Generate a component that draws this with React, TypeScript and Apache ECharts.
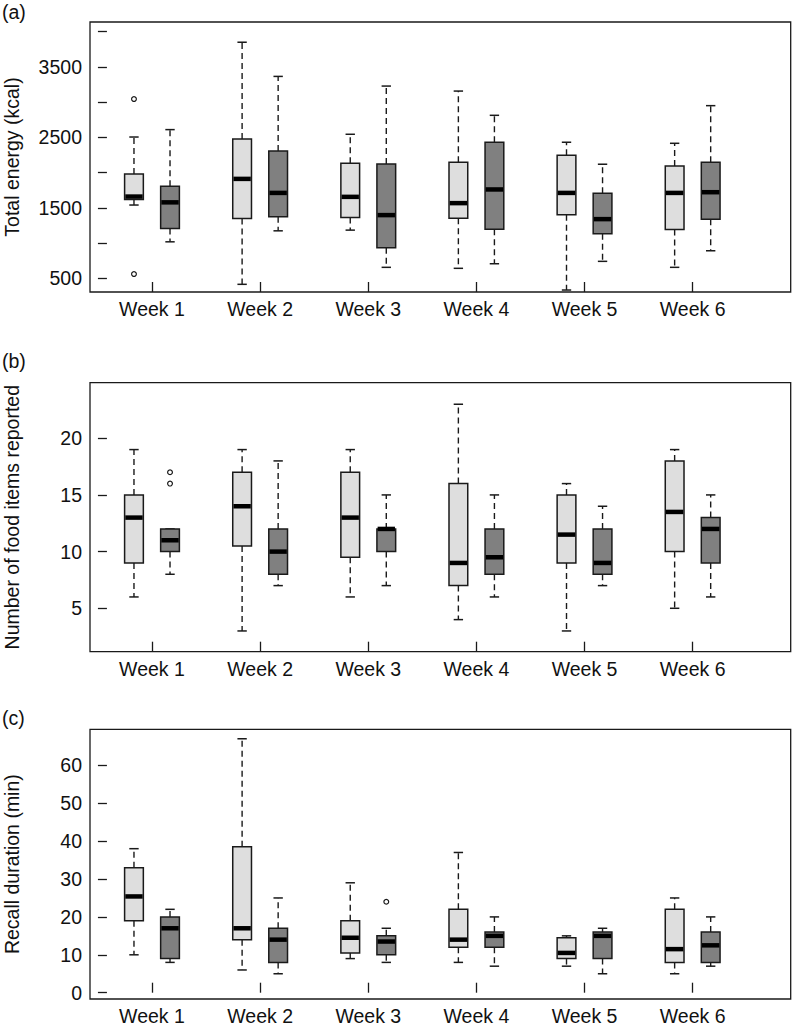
import React, { useEffect, useRef } from "react";
import * as echarts from "echarts";

const WEEKS = ["Week 1", "Week 2", "Week 3", "Week 4", "Week 5", "Week 6"];

// Each box: [lower whisker, Q1, median, Q3, upper whisker]
const ENERGY_LIGHT = [
  [1540, 1617, 1660, 1980, 2505],
  [415, 1350, 1911, 2478, 3850],
  [1184, 1364, 1656, 2133, 2544],
  [642, 1354, 1567, 2147, 3157],
  [334, 1401, 1712, 2246, 2431],
  [656, 1194, 1712, 2095, 2416],
];
const ENERGY_DARK = [
  [1018, 1208, 1578, 1807, 2610],
  [1174, 1373, 1712, 2307, 3365],
  [656, 933, 1397, 2123, 3228],
  [707, 1198, 1761, 2431, 2813],
  [741, 1132, 1340, 1708, 2119],
  [891, 1340, 1722, 2147, 2950],
];
// outliers: [week index, value]
const ENERGY_OUT_LIGHT = [
  [0, 3044],
  [0, 561],
];
const ENERGY_OUT_DARK: number[][] = [];

const ITEMS_LIGHT = [
  [6, 9, 13, 15, 19],
  [3, 10.5, 14, 17, 19],
  [6, 9.5, 13, 17, 19],
  [4, 7, 9, 16, 23],
  [3, 9, 11.5, 15, 16],
  [5, 10, 13.5, 18, 19],
];
const ITEMS_DARK = [
  [8, 10, 11, 12, 12],
  [7, 8, 10, 12, 18],
  [7, 10, 12, 12, 15],
  [6, 8, 9.5, 12, 15],
  [7, 8, 9, 12, 14],
  [6, 9, 12, 13, 15],
];
const ITEMS_OUT_LIGHT: number[][] = [];
const ITEMS_OUT_DARK = [
  [0, 16],
  [0, 17],
];

const DURATION_LIGHT = [
  [10, 19, 25.4, 33, 38],
  [6, 14, 17, 38.5, 67],
  [9, 10.5, 14.5, 19, 29],
  [8, 12, 14, 22, 37],
  [7, 9, 10.5, 14.5, 15],
  [5, 8, 11.5, 22, 25],
];
const DURATION_DARK = [
  [8, 9, 17, 20, 22],
  [5, 8, 14, 17, 25],
  [8, 10, 13.5, 15, 17],
  [7, 12, 15, 16, 20],
  [5, 9, 15, 16, 17],
  [7, 8, 12.5, 16, 20],
];
const DURATION_OUT_LIGHT: number[][] = [];
const DURATION_OUT_DARK = [[2, 24]];

const ENERGY_TICKS = [500, 1000, 1500, 2000, 2500, 3000, 3500, 4000];
const ENERGY_LABELS = [500, 1500, 2500, 3500];
const ITEMS_TICKS = [5, 10, 15, 20];
const DURATION_TICKS = [0, 10, 20, 30, 40, 50, 60];

const PANELS = [
  {
    tag: "(a)",
    title: "Total energy (kcal)",
    light: ENERGY_LIGHT,
    dark: ENERGY_DARK,
    outLight: ENERGY_OUT_LIGHT,
    outDark: ENERGY_OUT_DARK,
    ticks: ENERGY_TICKS,
    labels: ENERGY_LABELS,
    min: 306,
    max: 4137,
    top: 22,
    height: 270,
    tagY: 2,
  },
  {
    tag: "(b)",
    title: "Number of food items reported",
    light: ITEMS_LIGHT,
    dark: ITEMS_DARK,
    outLight: ITEMS_OUT_LIGHT,
    outDark: ITEMS_OUT_DARK,
    ticks: ITEMS_TICKS,
    labels: ITEMS_TICKS,
    min: 1.17,
    max: 24.9,
    top: 382.7,
    height: 269,
    tagY: 351,
  },
  {
    tag: "(c)",
    title: "Recall duration (min)",
    light: DURATION_LIGHT,
    dark: DURATION_DARK,
    outLight: DURATION_OUT_LIGHT,
    outDark: DURATION_OUT_DARK,
    ticks: DURATION_TICKS,
    labels: DURATION_TICKS,
    min: -1.66,
    max: 69.5,
    top: 729.3,
    height: 269.7,
    tagY: 708,
  },
];

const INK = "#1a1a1a";
const LIGHT_FILL = "#dedede";
const DARK_FILL = "#808080";
const FONT = "Liberation Sans";
const FS = 19.5;
const BOX_W = 0.52;
const CAP_W = 0.26;
const X_MIN = -0.22;
const X_MAX = 19.22;

const lightPos = (i: number) => 1 + 3 * i;
const darkPos = (i: number) => 2 + 3 * i;
const weekTick = (i: number) => 1.5 + 3 * i;

function makeRenderItem(fill: string) {
  return (_params: any, api: any) => {
    const x = api.value(0);
    const p = api.coord([x, api.value(1)]);
    const cx = p[0];
    const yLo = p[1];
    const yQ1 = api.coord([x, api.value(2)])[1];
    const yMed = api.coord([x, api.value(3)])[1];
    const yQ3 = api.coord([x, api.value(4)])[1];
    const yHi = api.coord([x, api.value(5)])[1];
    const bw = api.size([BOX_W, 0])[0];
    const cw = api.size([CAP_W, 0])[0];
    const dash = { stroke: INK, lineWidth: 1.4, lineDash: [6, 4], fill: null };
    const solid = { stroke: INK, lineWidth: 1.5, fill: null };
    return {
      type: "group",
      children: [
        { type: "line", shape: { x1: cx, y1: yQ3, x2: cx, y2: yHi }, style: dash },
        { type: "line", shape: { x1: cx, y1: yQ1, x2: cx, y2: yLo }, style: dash },
        { type: "line", shape: { x1: cx - cw / 2, y1: yHi, x2: cx + cw / 2, y2: yHi }, style: solid },
        { type: "line", shape: { x1: cx - cw / 2, y1: yLo, x2: cx + cw / 2, y2: yLo }, style: solid },
        {
          type: "rect",
          shape: { x: cx - bw / 2, y: yQ3, width: bw, height: yQ1 - yQ3 },
          style: { fill, stroke: INK, lineWidth: 1.5 },
        },
        {
          type: "line",
          shape: { x1: cx - bw / 2 + 0.7, y1: yMed, x2: cx + bw / 2 - 0.7, y2: yMed },
          style: { stroke: "#000", lineWidth: 4.5, fill: null },
        },
      ],
    };
  };
}

function renderOutlier(_params: any, api: any) {
  const p = api.coord([api.value(0), api.value(1)]);
  return {
    type: "circle",
    shape: { cx: p[0], cy: p[1], r: 2.4 },
    style: { fill: "#fff", stroke: INK, lineWidth: 1.2 },
  };
}

function buildOption() {
  const grid: any[] = [];
  const xAxis: any[] = [];
  const yAxis: any[] = [];
  const series: any[] = [];
  const graphic: any[] = [];

  PANELS.forEach((pn, k) => {
    grid.push({
      left: 90,
      right: 1.3,
      top: pn.top,
      height: pn.height,
      show: true,
      borderColor: INK,
      borderWidth: 1.3,
      backgroundColor: "transparent",
      containLabel: false,
      outerBoundsMode: "none",
    });
    xAxis.push({
      type: "value",
      gridIndex: k,
      min: X_MIN,
      max: X_MAX,
      axisLine: { show: false },
      splitLine: { show: false },
      axisTick: {
        show: true,
        inside: true,
        length: 10,
        customValues: WEEKS.map((_, i) => weekTick(i)),
        lineStyle: { color: INK, width: 1.3 },
      },
      axisLabel: {
        show: true,
        margin: 7,
        customValues: WEEKS.map((_, i) => weekTick(i)),
        formatter: (v: number) => WEEKS[Math.round((v - 1.5) / 3)] ?? "",
        color: "#111",
        fontFamily: FONT,
        fontSize: FS,
      },
    });
    yAxis.push({
      type: "value",
      gridIndex: k,
      min: pn.min,
      max: pn.max,
      name: pn.title,
      nameLocation: "middle",
      nameGap: 68,
      nameTextStyle: { color: "#111", fontFamily: FONT, fontSize: FS },
      axisLine: { show: false },
      splitLine: { show: false },
      axisTick: {
        show: true,
        inside: true,
        length: 9,
        customValues: pn.ticks,
        lineStyle: { color: INK, width: 1.3 },
      },
      axisLabel: {
        show: true,
        margin: 8,
        customValues: pn.labels,
        formatter: (v: number) => String(v),
        color: "#111",
        fontFamily: FONT,
        fontSize: FS,
      },
    });
    series.push({
      type: "custom",
      xAxisIndex: k,
      yAxisIndex: k,
      renderItem: makeRenderItem(LIGHT_FILL),
      encode: { x: 0, y: [1, 2, 3, 4, 5] },
      data: pn.light.map((b, i) => [lightPos(i), ...b]),
      z: 3,
    });
    series.push({
      type: "custom",
      xAxisIndex: k,
      yAxisIndex: k,
      renderItem: makeRenderItem(DARK_FILL),
      encode: { x: 0, y: [1, 2, 3, 4, 5] },
      data: pn.dark.map((b, i) => [darkPos(i), ...b]),
      z: 3,
    });
    series.push({
      type: "custom",
      xAxisIndex: k,
      yAxisIndex: k,
      renderItem: renderOutlier,
      encode: { x: 0, y: 1 },
      data: [
        ...pn.outLight.map((o) => [lightPos(o[0]), o[1]]),
        ...pn.outDark.map((o) => [darkPos(o[0]), o[1]]),
      ],
      z: 4,
    });
    graphic.push({
      type: "text",
      left: 2,
      top: pn.tagY,
      style: { text: pn.tag, fontFamily: FONT, fontSize: FS, fill: "#111" },
    });
  });

  return {
    animation: false,
    backgroundColor: "#fff",
    grid,
    xAxis,
    yAxis,
    series,
    graphic,
  };
}

export default function App() {
  const ref = useRef<HTMLDivElement>(null);
  useEffect(() => {
    if (!ref.current) return;
    const chart = echarts.init(ref.current, undefined, { renderer: "svg" });
    chart.setOption(buildOption() as any);
    return () => chart.dispose();
  }, []);
  return (
    <div
      ref={ref}
      style={{ position: "fixed", left: 0, top: 0, width: 792, height: 1027 }}
    />
  );
}
